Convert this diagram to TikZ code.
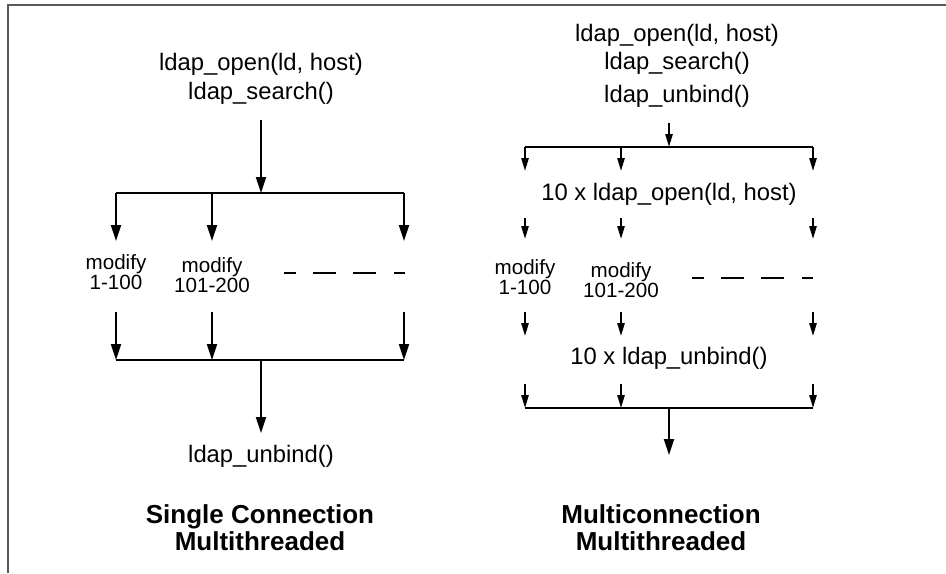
\documentclass[tikz,border=0pt]{standalone}
\usepackage{fontspec}
\setmainfont{Liberation Sans}
\usetikzlibrary{arrows.meta}
\tikzset{
  call/.style={font=\fontsize{11.9}{14}\selectfont, inner sep=0pt},
  modify/.style={font=\fontsize{10.3}{10.3}\selectfont, align=center, inner sep=0pt},
  caption/.style={font=\fontsize{13}{13.6}\selectfont\bfseries, align=center, inner sep=0pt},
  bigarrow/.style={line width=1pt, -{Triangle[length=8pt,width=5pt]}},
  smallarrow/.style={line width=1pt, -{Triangle[length=6.5pt,width=3.6pt]}},
  busline/.style={line width=1pt},
  gap/.style={line width=1pt, dash pattern=on 6pt off 8.5pt on 11.5pt off 8.5pt on 11.5pt off 9pt on 5.5pt}
}
\begin{document}
\begin{tikzpicture}[x=0.5pt,y=-0.5pt]
  \useasboundingbox (0,0) rectangle (946,573);
  \draw[black!65, line width=0.6pt] (8,573) -- (8,5) -- (946,5);
  % single connection
  \draw
    (261,64) node[call] (sopen){ldap\_open(ld, host)}
    (261,93) node[call] (ssearch){ldap\_search()}
    (116,272) node[modify] (smod1){modify\\1-100}
    (212,275) node[modify] (smod2){modify\\101-200}
    (261,456) node[call] (sunbind){ldap\_unbind()}
    (260,528) node[caption] (stitle){Single Connection\\Multithreaded};
  \coordinate (s0) at (261,120);
  \coordinate (s1) at (261,193);
  \coordinate (sl) at (116,193);
  \coordinate (sm) at (212,193);
  \coordinate (sr) at (404,193);
  \coordinate (sl2) at (116,241);
  \coordinate (sm2) at (212,241);
  \coordinate (sr2) at (404,241);
  \coordinate (sl3) at (116,312);
  \coordinate (sm3) at (212,312);
  \coordinate (sr3) at (404,312);
  \coordinate (sl4) at (116,360);
  \coordinate (sm4) at (212,360);
  \coordinate (sr4) at (404,360);
  \coordinate (s4) at (261,360);
  \coordinate (s5) at (261,433);
  \coordinate (sd0) at (284,273);
  \coordinate (sd1) at (405,273);
  \begin{scope}[bigarrow]
    \draw (s0) to (s1);
    \draw (sl) to (sl2);
    \draw (sm) to (sm2);
    \draw (sr) to (sr2);
    \draw (sl3) to (sl4);
    \draw (sm3) to (sm4);
    \draw (sr3) to (sr4);
    \draw (s4) to (s5);
  \end{scope}
  \draw[busline] (sl) to (sr);
  \draw[busline] (sl4) to (sr4);
  \draw[gap] (sd0) to (sd1);
  % multiconnection
  \draw
    (677,35) node[call] (mopen){ldap\_open(ld, host)}
    (677,63) node[call] (msearch){ldap\_search()}
    (677,96) node[call] (munbind){ldap\_unbind()}
    (669,194) node[call] (mopen10){10 x ldap\_open(ld, host)}
    (525,277) node[modify] (mmod1){modify\\1-100}
    (621,280) node[modify] (mmod2){modify\\101-200}
    (669,358) node[call] (munbind10){10 x ldap\_unbind()}
    (661,528) node[caption] (mtitle){Multiconnection\\Multithreaded};
  \coordinate (m0) at (669,123);
  \coordinate (m1) at (669,147);
  \coordinate (ml) at (525,147);
  \coordinate (mm) at (621,147);
  \coordinate (mr) at (813,147);
  \foreach \c/\x in {l/525,m/621,r/813} {
    \coordinate (m\c2) at (\x,171);
    \coordinate (m\c3) at (\x,218);
    \coordinate (m\c4) at (\x,239);
    \coordinate (m\c5) at (\x,312);
    \coordinate (m\c6) at (\x,336);
    \coordinate (m\c7) at (\x,384);
    \coordinate (m\c8) at (\x,408);
  }
  \coordinate (m8) at (669,408);
  \coordinate (m9) at (669,455);
  \coordinate (md0) at (692,278);
  \coordinate (md1) at (814,278);
  \begin{scope}[smallarrow]
    \draw (m0) to (m1);
    \foreach \c in {l,m,r} {
      \draw (m\c) to (m\c2);
      \draw (m\c3) to (m\c4);
      \draw (m\c5) to (m\c6);
      \draw (m\c7) to (m\c8);
    }
  \end{scope}
  \draw[busline] (ml) to (mr);
  \draw[busline] (ml8) to (mr8);
  \draw[bigarrow] (m8) to (m9);
  \draw[gap] (md0) to (md1);
\end{tikzpicture}
\end{document}
